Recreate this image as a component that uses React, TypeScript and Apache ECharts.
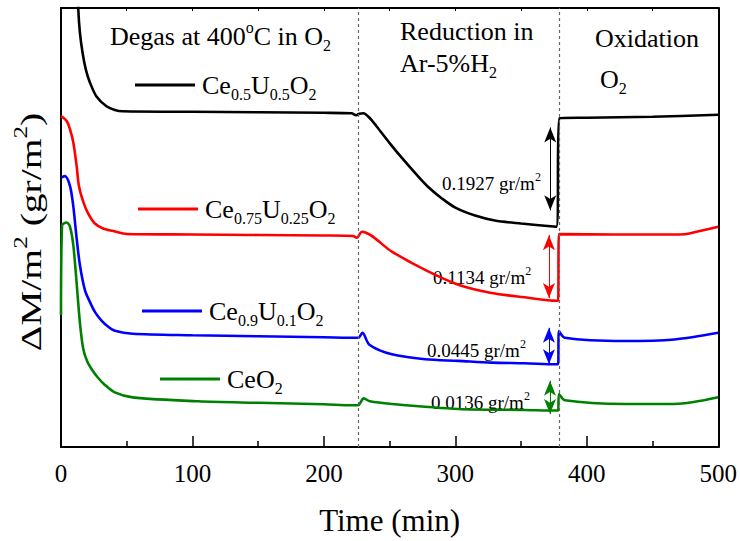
import React, { useEffect, useRef } from 'react';
import * as echarts from 'echarts';

const SERIF = "'Liberation Serif', 'Times New Roman', Times, serif";

// x: time (min); y: relative mass change (the figure shows no y scale)
const X_MIN = 0;
const X_MAX = 500;
const X_STEP = 100;
const Y_MIN = 0;
const Y_MAX = 442;

const seriesNames = ['Ce0.5U0.5O2', 'Ce0.75U0.25O2', 'Ce0.9U0.1O2', 'CeO2'];
const seriesRich = [
  '{n|Ce}{s|0.5}{n|U}{s|0.5}{n|O}{s|2}',
  '{n|Ce}{s|0.75}{n|U}{s|0.25}{n|O}{s|2}',
  '{n|Ce}{s|0.9}{n|U}{s|0.1}{n|O}{s|2}',
  '{n|CeO}{s|2}',
];
const seriesColors = ['#000000', '#ff0000', '#0000ff', '#008000'];

const ceU05: [number, number][] = [
  [11, 520], [13.1, 442], [14.4, 417], [16.4, 397], [18.9, 380], [22, 367], [27, 353],
  [34.6, 343], [40.9, 339.3], [47, 338], [100, 337.5], [150, 337], [200, 336.5],
  [221, 336], [224.5, 334], [227, 335.5], [230, 336], [235, 331], [240, 323], [250, 306],
  [260, 290], [270, 275], [280, 261], [290, 250], [300, 241], [315, 233], [330, 228],
  [350, 225], [376.8, 221.7], [379.3, 331], [400, 331.5], [450, 332.5], [500, 334.5],
];
const ceU025: [number, number][] = [
  [0, 333.3], [4.3, 328.3], [6.8, 320], [9.3, 307], [11.9, 283], [13.6, 263], [16.9, 247],
  [20.7, 235], [25.8, 225], [32, 220], [41, 217], [50, 214.5], [100, 214], [150, 213.5],
  [200, 213], [222, 212.5], [225, 210.7], [229, 216.7], [251.7, 196.7], [277, 178.3],
  [302.3, 163.3], [327.5, 155], [352.8, 150.7], [377.3, 147.3], [378.2, 147.3],
  [378.8, 214.3], [420, 214], [471, 214], [478, 215], [500, 221.7],
];
const ceU01: [number, number][] = [
  [0.5, 271.5], [3, 272.7], [6.8, 263], [9.3, 243], [11.9, 210], [14.4, 183], [18.2, 158],
  [22, 146], [26, 135.5], [31, 127], [36, 121], [41, 117], [54.5, 114], [100, 112.5],
  [150, 111.5], [200, 110.5], [226, 110], [229.3, 115], [234.6, 103], [251.7, 93.3],
  [277, 88.3], [302.3, 86.7], [327.5, 85], [352.8, 84.3], [377.3, 83.3], [378.2, 83.3],
  [378.8, 116.7], [383.3, 110], [428.8, 106.7], [466.7, 108.3], [500, 115],
];
const ceO2: [number, number][] = [
  [0, 133], [0.8, 223], [4.3, 226], [6.8, 222], [9.3, 204], [11.9, 165], [14.4, 125],
  [16.9, 99], [20, 86], [24, 77], [28, 70], [33, 63], [40.9, 55], [54.5, 50], [104.5, 46],
  [150, 44.5], [200, 43], [221, 42], [226, 42], [230.3, 49], [235, 46], [251.7, 43.3],
  [302.3, 38.3], [352.8, 37.3], [377.3, 36.7], [378.2, 36.7], [378.8, 53.3], [383.3, 47],
  [428.8, 43.3], [466.7, 43.3], [500, 50],
];
const seriesData = [ceU05, ceU025, ceU01, ceO2];

// gas-change boundaries (min)
const stepBoundaries = [225.8, 379.3];

// mass-loss arrows during reduction
const lossValues = ['0.1927', '0.1134', '0.0445', '0.0136'];
const lossArrowTime = [372.2, 371.2, 371.2, 372];
const lossArrowTop = [321.7, 213.3, 120, 66.7];
const lossArrowBottom = [238.3, 150, 83.3, 33.3];

function makeRich(f: number, color = '#000') {
  const L = Math.round(f * 1.3);
  const g = Math.round(f * 0.62);
  return {
    n: { fontSize: f, lineHeight: L, fontFamily: SERIF, color, verticalAlign: 'middle' },
    s: { fontSize: g, lineHeight: Math.round(f * 0.38), fontFamily: SERIF, color, verticalAlign: 'bottom' },
    q: { fontSize: g, lineHeight: Math.round(f * 0.77), fontFamily: SERIF, color, verticalAlign: 'top' },
  };
}

export default function App() {
  const ref = useRef<HTMLDivElement>(null);
  useEffect(() => {
    document.body.style.margin = '0';
    const chart = echarts.init(ref.current!, null, { renderer: 'svg' });
    const R26 = makeRich(26);
    const R19 = makeRich(19);
    const R30 = makeRich(30);

    const legendCenters = [89, 213, 315, 383];
    const legendLefts = [135, 138, 142, 160];
    const L26 = Math.round(26 * 1.3);

    const lossTextPos = [
      [442, 183],
      [433, 277],
      [427, 350],
      [431, 402],
    ];

    const series: any[] = seriesNames.map((name, i) => ({
      name,
      type: 'line',
      data: seriesData[i],
      symbol: 'none',
      showSymbol: false,
      smooth: 0.3,
      clip: true,
      lineStyle: { color: seriesColors[i], width: 2.6 },
      itemStyle: { color: seriesColors[i] },
      z: 3,
      markLine: {
        silent: true,
        animation: false,
        symbol: ['arrow', 'arrow'],
        symbolSize: [9, 15],
        label: { show: false },
        lineStyle: { color: seriesColors[i], width: 1, type: 'solid' },
        data: [[
          { coord: [lossArrowTime[i], lossArrowTop[i]] },
          { coord: [lossArrowTime[i], lossArrowBottom[i]] },
        ]],
      },
    }));
    series.push({
      name: 'boundaries',
      type: 'line',
      data: [],
      symbol: 'none',
      markLine: {
        silent: true,
        animation: false,
        symbol: ['none', 'none'],
        label: { show: false },
        lineStyle: { color: '#666', width: 1.2, type: [3, 3] },
        data: stepBoundaries.map((x) => ({ xAxis: x })),
      },
    });

    const graphic: any[] = [
      { type: 'text', x: 110, y: 36, style: { text: '{n|Degas at 400}{q|o}{n|C in O}{s|2}', rich: R26, verticalAlign: 'middle', align: 'left' } },
      { type: 'text', x: 400, y: 31, style: { text: '{n|Reduction in}', rich: R26, verticalAlign: 'middle', align: 'left' } },
      { type: 'text', x: 400, y: 63, style: { text: '{n|Ar-5%H}{s|2}', rich: R26, verticalAlign: 'middle', align: 'left' } },
      { type: 'text', x: 595, y: 38, style: { text: '{n|Oxidation}', rich: R26, verticalAlign: 'middle', align: 'left' } },
      { type: 'text', x: 600, y: 79, style: { text: '{n|O}{s|2}', rich: R26, verticalAlign: 'middle', align: 'left' } },
      {
        type: 'text', x: 31, y: 232, rotation: Math.PI / 2, scaleX: 1.32,
        style: { text: '{n|ΔM/m}{q|2}{n| (gr/m}{q|2}{n|)}', rich: R30, verticalAlign: 'middle', align: 'center' },
      },
      ...lossValues.map((v, i) => ({
        type: 'text', x: lossTextPos[i][0], y: lossTextPos[i][1],
        style: { text: `{n|${v} gr/m}{q|2}`, rich: R19, verticalAlign: 'middle', align: 'left' },
      })),
    ];

    chart.setOption({
      animation: false,
      backgroundColor: '#fff',
      grid: { left: 61, right: 19, top: 8, bottom: 91, show: false },
      legend: seriesNames.map((name, i) => ({
        data: [name],
        left: legendLefts[i],
        top: legendCenters[i] - L26 / 2,
        padding: 0,
        icon: 'rect',
        itemWidth: 60,
        itemHeight: 3,
        selectedMode: false,
        formatter: () => seriesRich[i],
        textStyle: { rich: R26, padding: [0, 0, 0, 2] },
      })),
      xAxis: [
        {
          type: 'value', min: X_MIN, max: X_MAX, interval: X_STEP, position: 'bottom',
          axisLine: { show: true, onZero: false, lineStyle: { color: '#000', width: 2 } },
          axisTick: { show: true, inside: true, length: 11, lineStyle: { color: '#000', width: 1.5 } },
          minorTick: { show: true, splitNumber: 2, length: 6, lineStyle: { color: '#000', width: 1.5 } },
          axisLabel: { show: true, margin: 14, fontSize: 25, fontFamily: SERIF, color: '#000' },
          splitLine: { show: false },
          name: 'Time (min)', nameLocation: 'middle', nameGap: 58,
          nameTextStyle: { fontSize: 31, fontFamily: SERIF, color: '#000' },
        },
        {
          type: 'value', min: X_MIN, max: X_MAX, interval: 50, position: 'top',
          axisLine: { show: true, onZero: false, lineStyle: { color: '#000', width: 2 } },
          axisTick: { show: true, inside: true, length: 3, lineStyle: { color: '#000', width: 1 } },
          axisLabel: { show: false },
          splitLine: { show: false },
        },
      ],
      yAxis: [
        {
          type: 'value', min: Y_MIN, max: Y_MAX, position: 'left',
          axisLine: { show: true, onZero: false, lineStyle: { color: '#000', width: 2 } },
          axisTick: { show: false }, axisLabel: { show: false }, splitLine: { show: false },
        },
        {
          type: 'value', min: Y_MIN, max: Y_MAX, position: 'right',
          axisLine: { show: true, onZero: false, lineStyle: { color: '#000', width: 2 } },
          axisTick: { show: false }, axisLabel: { show: false }, splitLine: { show: false },
        },
      ],
      series,
      graphic,
    });
    return () => chart.dispose();
  }, []);
  return <div ref={ref} style={{ width: 740, height: 541 }} />;
}
